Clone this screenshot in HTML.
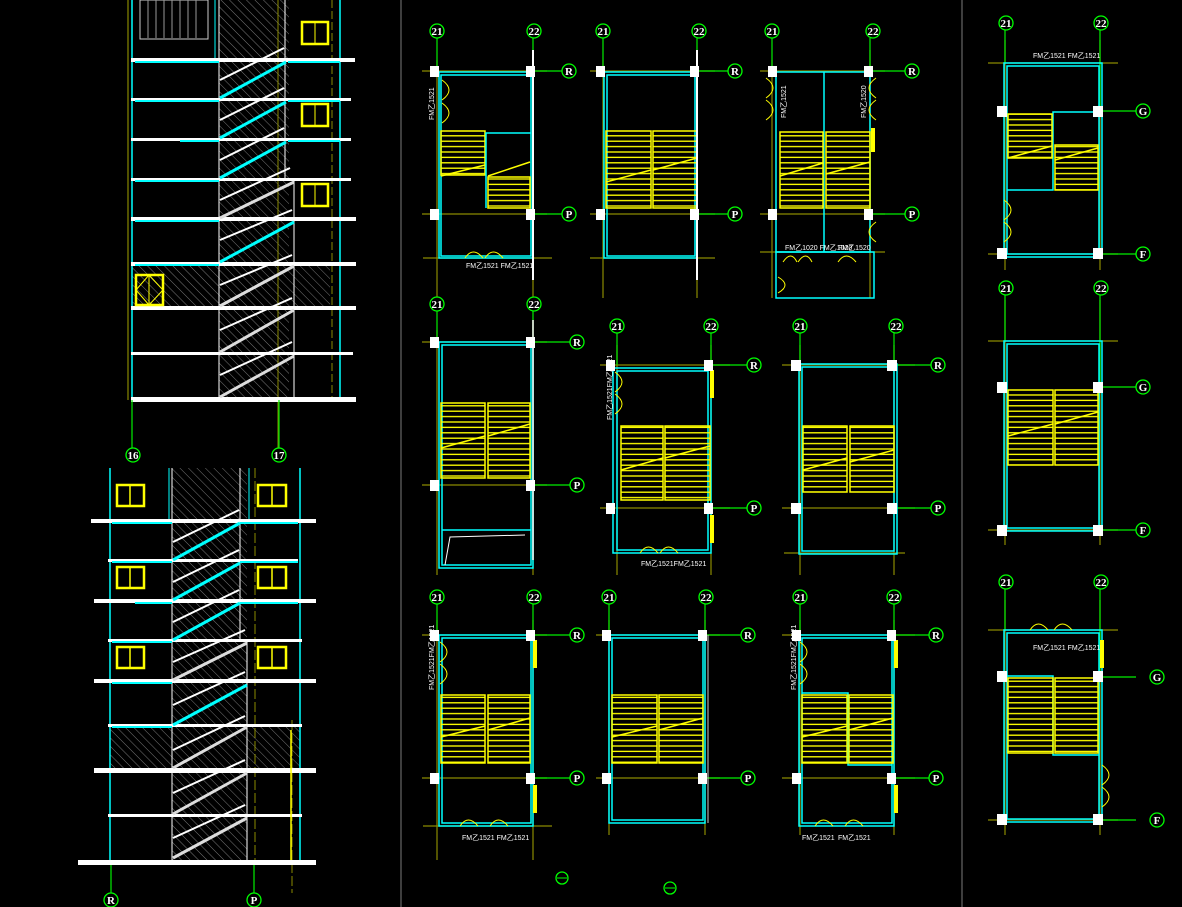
<!DOCTYPE html>
<html><head><meta charset="utf-8"><style>
html,body{margin:0;padding:0;background:#000;}
svg{display:block;}
text{font-family:"Liberation Sans",sans-serif;}
.gc{fill:#000;stroke:#00ff00;stroke-width:1.3}
.gt{fill:#fff;font-size:11px;text-anchor:middle;font-family:"Liberation Serif",serif;font-weight:bold}
.ol{stroke:#8a8a00;stroke-width:1.2;fill:none}
.gr{stroke:#00ee00;stroke-width:1.2;fill:none}
.cy{stroke:#00ffff;stroke-width:1.5;fill:none}
.wh{fill:#fff}
.st{fill:url(#tread);stroke:#ffff00;stroke-width:1.5}
.sm{fill:#fff;font-size:7px}
.dg{stroke:#ffff00;stroke-width:1.5;fill:none}
</style></head><body>
<svg width="1182" height="907" viewBox="0 0 1182 907" xmlns="http://www.w3.org/2000/svg">
<defs>
<pattern id="tread" width="1200" height="5.4" patternUnits="userSpaceOnUse"><line x1="0" y1="0.8" x2="1200" y2="0.8" stroke="#ffff00" stroke-width="1.3"/></pattern>
<pattern id="hatch" width="6" height="6" patternUnits="userSpaceOnUse" patternTransform="rotate(-45)"><rect width="6" height="6" fill="#000"/><line x1="0" y1="0" x2="0" y2="6" stroke="#777" stroke-width="1"/></pattern>
</defs>
<rect width="1182" height="907" fill="#000"/>
<line x1="401" y1="0" x2="401" y2="907" stroke="#666" stroke-width="1.2"/>
<line x1="962" y1="0" x2="962" y2="907" stroke="#666" stroke-width="1.2"/>

<!-- TOP ELEVATION -->
<g>
<rect x="219" y="0" width="70" height="400" fill="url(#hatch)"/>
<rect x="132" y="265" width="198" height="42" fill="url(#hatch)"/>
<line x1="219" y1="0" x2="219" y2="400" stroke="#fff"/>
<line x1="285" y1="0" x2="285" y2="180" stroke="#fff"/>
<line x1="294" y1="180" x2="294" y2="400" stroke="#fff"/>
<rect x="140" y="0" width="68" height="39" fill="none" stroke="#ccc"/>
<g stroke="#999"><line x1="148" y1="0" x2="148" y2="38"/><line x1="156" y1="0" x2="156" y2="38"/><line x1="164" y1="0" x2="164" y2="38"/><line x1="172" y1="0" x2="172" y2="38"/><line x1="180" y1="0" x2="180" y2="38"/><line x1="188" y1="0" x2="188" y2="38"/><line x1="196" y1="0" x2="196" y2="38"/></g>
<line x1="132" y1="0" x2="132" y2="400" stroke="#00ffff" stroke-width="1.5"/>
<line x1="128" y1="0" x2="128" y2="400" stroke="#cccc00" stroke-width="0.8"/>
<line x1="340" y1="0" x2="340" y2="400" stroke="#00ffff" stroke-width="1.5"/>
<line x1="332" y1="0" x2="332" y2="400" stroke="#8a8a00" stroke-dasharray="8 3"/>
<line x1="278" y1="0" x2="278" y2="448" stroke="#8a8a00"/>
<line x1="215" y1="0" x2="215" y2="58" stroke="#00ffff"/>
<g fill="#fff">
<rect x="131" y="58" width="224" height="4"/><rect x="131" y="98" width="220" height="3"/><rect x="131" y="138" width="220" height="3"/>
<rect x="131" y="178" width="220" height="3"/><rect x="131" y="217" width="225" height="4"/><rect x="131" y="262" width="225" height="4"/>
<rect x="131" y="306" width="225" height="4"/><rect x="131" y="352" width="222" height="3"/><rect x="131" y="397" width="225" height="5"/>
</g>
<g stroke="#00ffff" stroke-width="2"><line x1="135" y1="62" x2="219" y2="62"/><line x1="288" y1="62" x2="340" y2="62"/><line x1="135" y1="101" x2="219" y2="101"/><line x1="288" y1="101" x2="340" y2="101"/><line x1="180" y1="141" x2="219" y2="141"/><line x1="288" y1="141" x2="340" y2="141"/><line x1="135" y1="181" x2="219" y2="181"/><line x1="135" y1="221" x2="219" y2="221"/><line x1="135" y1="265" x2="219" y2="265"/></g>
<g stroke="#fff" stroke-width="2">
<line x1="220" y1="80" x2="284" y2="48"/><line x1="220" y1="120" x2="284" y2="88"/><line x1="220" y1="160" x2="284" y2="128"/><line x1="220" y1="200" x2="290" y2="168"/><line x1="220" y1="240" x2="292" y2="210"/><line x1="220" y1="285" x2="292" y2="255"/><line x1="220" y1="330" x2="292" y2="298"/><line x1="220" y1="375" x2="292" y2="342"/></g>
<g stroke="#00ffff" stroke-width="3">
<line x1="220" y1="98" x2="286" y2="62"/><line x1="220" y1="138" x2="286" y2="102"/><line x1="220" y1="178" x2="286" y2="142"/><line x1="220" y1="262" x2="294" y2="222"/></g>
<g stroke="#ddd" stroke-width="3"><line x1="220" y1="218" x2="294" y2="182"/><line x1="220" y1="306" x2="294" y2="266"/><line x1="220" y1="352" x2="294" y2="310"/><line x1="220" y1="397" x2="294" y2="356"/></g>
<g fill="none" stroke="#ffff00" stroke-width="2.5"><rect x="302" y="22" width="26" height="22"/><rect x="302" y="104" width="26" height="22"/><rect x="302" y="184" width="26" height="22"/><rect x="136" y="275" width="27" height="30"/></g>
<g stroke="#ffff00" stroke-width="1"><line x1="315" y1="22" x2="315" y2="44"/><line x1="315" y1="104" x2="315" y2="126"/><line x1="315" y1="184" x2="315" y2="206"/><line x1="149" y1="275" x2="149" y2="305"/><path d="M136 290 L149 275 L163 290 L149 305 Z" fill="none"/></g>
<line x1="132" y1="400" x2="132" y2="448" class="gr"/><line x1="279" y1="400" x2="279" y2="448" class="gr"/>
<circle cx="133" cy="455" r="7" class="gc"/><text x="133" y="459" class="gt">16</text>
<circle cx="279" cy="455" r="7" class="gc"/><text x="279" y="459" class="gt">17</text>
</g>

<!-- BOTTOM ELEVATION -->
<g>
<rect x="172" y="468" width="75" height="394" fill="url(#hatch)"/>
<rect x="110" y="727" width="190" height="43" fill="url(#hatch)"/>
<line x1="172" y1="468" x2="172" y2="860" stroke="#fff"/><line x1="240" y1="468" x2="240" y2="640" stroke="#fff"/><line x1="247" y1="640" x2="247" y2="860" stroke="#fff"/>
<line x1="110" y1="468" x2="110" y2="862" stroke="#00ffff" stroke-width="1.5"/>
<line x1="300" y1="468" x2="300" y2="862" stroke="#00ffff" stroke-width="1.5"/>
<line x1="169" y1="468" x2="169" y2="520" stroke="#00ffff"/><line x1="249" y1="468" x2="249" y2="520" stroke="#00ffff"/>
<line x1="255" y1="468" x2="255" y2="862" stroke="#8a8a00" stroke-dasharray="10 3"/>
<line x1="292" y1="720" x2="292" y2="893" stroke="#8a8a00" stroke-dasharray="10 3"/>
<g fill="#fff"><rect x="91" y="519" width="225" height="4"/><rect x="108" y="559" width="190" height="3"/><rect x="94" y="599" width="222" height="4"/><rect x="108" y="639" width="194" height="3"/><rect x="94" y="679" width="222" height="4"/><rect x="108" y="724" width="194" height="3"/><rect x="94" y="768" width="222" height="5"/><rect x="108" y="814" width="194" height="3"/><rect x="78" y="860" width="238" height="5"/></g>
<g stroke="#00ffff" stroke-width="2"><line x1="112" y1="523" x2="172" y2="523"/><line x1="240" y1="523" x2="298" y2="523"/><line x1="112" y1="562" x2="172" y2="562"/><line x1="240" y1="562" x2="298" y2="562"/><line x1="135" y1="603" x2="172" y2="603"/><line x1="240" y1="603" x2="298" y2="603"/><line x1="112" y1="642" x2="172" y2="642"/><line x1="112" y1="683" x2="172" y2="683"/><line x1="112" y1="727" x2="172" y2="727"/></g>
<g stroke="#fff" stroke-width="2"><line x1="173" y1="542" x2="239" y2="510"/><line x1="173" y1="582" x2="239" y2="550"/><line x1="173" y1="622" x2="239" y2="590"/><line x1="173" y1="662" x2="245" y2="630"/><line x1="173" y1="705" x2="245" y2="672"/><line x1="173" y1="750" x2="245" y2="716"/><line x1="173" y1="793" x2="245" y2="760"/><line x1="173" y1="838" x2="245" y2="805"/></g>
<g stroke="#00ffff" stroke-width="3"><line x1="173" y1="560" x2="240" y2="523"/><line x1="173" y1="600" x2="240" y2="563"/><line x1="173" y1="640" x2="240" y2="603"/><line x1="173" y1="725" x2="247" y2="685"/></g>
<g stroke="#ddd" stroke-width="3"><line x1="173" y1="680" x2="247" y2="643"/><line x1="173" y1="768" x2="247" y2="727"/><line x1="173" y1="814" x2="247" y2="773"/><line x1="173" y1="858" x2="247" y2="818"/></g>
<g fill="none" stroke="#ffff00" stroke-width="2.5"><rect x="117" y="485" width="27" height="21"/><rect x="258" y="485" width="28" height="21"/><rect x="117" y="567" width="27" height="21"/><rect x="258" y="567" width="28" height="21"/><rect x="117" y="647" width="27" height="21"/><rect x="258" y="647" width="28" height="21"/></g>
<g stroke="#ffff00" stroke-width="1.5"><line x1="130" y1="485" x2="130" y2="506"/><line x1="272" y1="485" x2="272" y2="506"/><line x1="130" y1="567" x2="130" y2="588"/><line x1="272" y1="567" x2="272" y2="588"/><line x1="130" y1="647" x2="130" y2="668"/><line x1="272" y1="647" x2="272" y2="668"/><line x1="291" y1="730" x2="291" y2="860"/></g>
<line x1="111" y1="865" x2="111" y2="893" class="gr"/><line x1="254" y1="865" x2="254" y2="893" class="gr"/>
<circle cx="111" cy="900" r="7" class="gc"/><text x="111" y="904" class="gt">R</text>
<circle cx="254" cy="900" r="7" class="gc"/><text x="254" y="904" class="gt">P</text>
</g>

<!-- PLAN A -->
<g>
<path class="ol" d="M422 71H547M422 214H547M423 258H552M437 60V298M533 50V298"/>
<path class="gr" d="M437 38V71M533 38V71M533 71H562M533 214H562"/>
<rect x="439" y="72" width="94" height="186" class="cy"/>
<rect x="441" y="75" width="90" height="181" class="cy" stroke-width="1"/>
<rect x="441" y="131" width="44" height="44" class="st"/><rect x="488" y="177" width="42" height="31" class="st"/>
<path class="cy" d="M486 208V133H531"/>
<path class="dg" d="M441 176L485 165M488 176L530 162"/>
<line x1="533" y1="50" x2="533" y2="280" stroke="#fff" stroke-width="2"/>
<path d="M442 80 q14 10 0 20 M442 103 q14 10 0 20 M465 258 q8-12 18 0 M485 258 q8-12 18 0" stroke="#ffff00" fill="none"/>
<text x="466" y="268" class="sm">FM乙1521 FM乙1521</text>
<text class="sm" transform="translate(434 120) rotate(-90)">FM乙1521</text>
</g>
<!-- PLAN B -->
<g>
<path class="ol" d="M590 71H715M590 214H715M590 258H715M603 60V298M697 50V298"/>
<path class="gr" d="M603 38V71M697 38V71M697 71H728M697 214H728"/>
<rect x="604" y="72" width="93" height="186" class="cy"/>
<rect x="607" y="75" width="88" height="181" class="cy" stroke-width="1"/>
<rect x="606" y="131" width="45" height="77" class="st"/><rect x="653" y="131" width="44" height="77" class="st"/>
<path class="dg" d="M606 182L651 170M653 170L697 158"/>
<line x1="697" y1="50" x2="697" y2="280" stroke="#fff" stroke-width="2"/>
</g>
<!-- PLAN C -->
<g>
<path class="ol" d="M760 71H885M760 214H885M760 252H885M772 60V298M870 50V298"/>
<path class="gr" d="M772 38V71M870 38V71M870 71H905M870 214H905"/>
<rect x="776" y="72" width="94" height="180" class="cy"/>
<rect x="776" y="252" width="98" height="46" class="cy"/>
<line x1="824" y1="72" x2="824" y2="252" class="cy" stroke-width="2"/>
<rect x="780" y="132" width="43" height="76" class="st"/><rect x="826" y="132" width="44" height="76" class="st"/>
<path class="dg" d="M780 176L823 163M826 174L870 162"/>
<rect x="871" y="128" width="4" height="24" fill="#ffff00"/>
<path d="M766 78 q14 10 0 20 M766 100 q14 10 0 20 M876 78 q-14 10 0 20 M876 100 q-14 10 0 20 M876 222 q-14 10 0 20 M783 262 q8-12 14 0 M798 262 q8-12 14 0 M838 262 q8-12 18 0 M778 277 q14 8 0 16" stroke="#ffff00" fill="none"/>
<text x="785" y="250" class="sm">FM乙1020 FM乙1020</text><text x="838" y="250" class="sm">FM乙1520</text>
<text class="sm" transform="translate(786 118) rotate(-90)">FM乙1521</text><text class="sm" transform="translate(866 118) rotate(-90)">FM乙1520</text>
</g>
<!-- PLAN D -->
<g>
<path class="ol" d="M422 342H547M422 485H547M437 330V575M533 320V575"/>
<path class="gr" d="M437 311V342M533 311V342M533 342H570M533 485H570"/>
<rect x="439" y="342" width="94" height="226" class="cy"/>
<rect x="442" y="345" width="89" height="220" class="cy" stroke-width="1"/>
<line x1="442" y1="530" x2="531" y2="530" class="cy" stroke-width="1"/>
<path d="M445 565 L450 537 L525 535" stroke="#fff" fill="none"/>
<rect x="441" y="403" width="44" height="75" class="st"/><rect x="488" y="403" width="42" height="75" class="st"/>
<path class="dg" d="M441 448L485 436M488 436L530 424"/>
<line x1="533" y1="320" x2="533" y2="560" stroke="#fff" stroke-width="1.5"/>
</g>
<!-- PLAN E -->
<g>
<path class="ol" d="M600 365H730M600 508H730M617 345V575M711 345V575"/>
<path class="gr" d="M617 333V365M711 333V365M711 365H747M711 508H747"/>
<rect x="613" y="368" width="98" height="185" class="cy"/>
<rect x="617" y="371" width="91" height="179" class="cy" stroke-width="1"/>
<rect x="621" y="426" width="42" height="74" class="st"/><rect x="665" y="426" width="45" height="74" class="st"/>
<path class="dg" d="M621 470L663 458M665 458L710 446"/>
<rect x="710" y="370" width="4" height="28" fill="#ffff00"/><rect x="710" y="515" width="4" height="28" fill="#ffff00"/>
<path d="M615 372 q14 10 0 20 M615 394 q14 10 0 20 M640 553 q8-12 18 0 M660 553 q8-12 18 0" stroke="#ffff00" fill="none"/>
<text x="641" y="566" class="sm">FM乙1521FM乙1521</text>
<text class="sm" transform="translate(612 420) rotate(-90)">FM乙1521FM乙1521</text>
</g>
<!-- PLAN F -->
<g>
<path class="ol" d="M782 365H915M782 508H915M784 553H905M800 345V575M894 345V575"/>
<path class="gr" d="M800 333V365M894 333V365M894 365H931M894 508H931"/>
<rect x="799" y="364" width="98" height="190" class="cy"/>
<rect x="802" y="367" width="92" height="184" class="cy" stroke-width="1"/>
<rect x="803" y="426" width="44" height="66" class="st"/><rect x="850" y="426" width="44" height="66" class="st"/>
<path class="dg" d="M803 470L847 458M850 462L894 450"/>
</g>
<!-- PLAN G -->
<g>
<path class="ol" d="M422 635H547M422 778H547M423 826H552M437 620V860M533 620V860"/>
<path class="gr" d="M437 604V635M533 604V635M533 635H570M533 778H570"/>
<rect x="439" y="635" width="94" height="191" class="cy"/>
<rect x="442" y="638" width="89" height="185" class="cy" stroke-width="1"/>
<rect x="441" y="695" width="44" height="68" class="st"/><rect x="488" y="695" width="42" height="68" class="st"/>
<path class="dg" d="M441 737L485 726M488 730L530 718"/>
<rect x="533" y="640" width="4" height="28" fill="#ffff00"/><rect x="533" y="785" width="4" height="28" fill="#ffff00"/>
<path d="M440 642 q14 10 0 20 M440 664 q14 10 0 20 M460 826 q8-12 18 0 M490 826 q8-12 18 0" stroke="#ffff00" fill="none"/>
<text x="462" y="840" class="sm">FM乙1521 FM乙1521</text>
<text class="sm" transform="translate(434 690) rotate(-90)">FM乙1521FM乙1521</text>
</g>
<!-- PLAN H -->
<g>
<path class="ol" d="M596 635H720M596 778H720M609 620V835M705 620V835"/>
<path class="gr" d="M609 604V635M705 604V635M705 635H741M705 778H741"/>
<rect x="609" y="635" width="96" height="188" class="cy"/>
<rect x="612" y="638" width="91" height="182" class="cy" stroke-width="1"/>
<rect x="612" y="695" width="45" height="68" class="st"/><rect x="659" y="695" width="44" height="68" class="st"/>
<path class="dg" d="M612 737L657 726M659 730L703 718"/>
<line x1="708" y1="635" x2="708" y2="823" stroke="#ccc"/>
</g>
<!-- PLAN I -->
<g>
<path class="ol" d="M782 635H915M782 778H915M800 620V835M894 620V835"/>
<path class="gr" d="M800 604V635M894 604V635M894 635H929M894 778H929"/>
<rect x="799" y="635" width="95" height="191" class="cy"/>
<rect x="802" y="638" width="90" height="185" class="cy" stroke-width="1"/>
<path class="cy" d="M802 693H848V765H892"/>
<rect x="802" y="695" width="45" height="68" class="st"/><rect x="849" y="695" width="44" height="68" class="st"/>
<path class="dg" d="M802 737L847 726M849 730L893 718"/>
<rect x="894" y="640" width="4" height="28" fill="#ffff00"/><rect x="894" y="785" width="4" height="28" fill="#ffff00"/>
<path d="M800 642 q14 10 0 20 M800 664 q14 10 0 20 M815 826 q8-12 18 0 M845 826 q8-12 18 0" stroke="#ffff00" fill="none"/>
<text x="802" y="840" class="sm">FM乙1521</text><text x="838" y="840" class="sm">FM乙1521</text>
<text class="sm" transform="translate(796 690) rotate(-90)">FM乙1521FM乙1521</text>
</g>
<!-- PLAN J -->
<g>
<path class="ol" d="M988 63H1118M988 254H1118M1005 40V270M1100 40V270"/>
<path class="gr" d="M1005 30V63M1100 30V111M1100 111H1136M1100 254H1136"/>
<rect x="1004" y="63" width="98" height="194" class="cy"/>
<rect x="1007" y="66" width="92" height="188" class="cy" stroke-width="1"/>
<path class="cy" d="M1007 190H1053V112H1099"/>
<rect x="1008" y="114" width="44" height="44" class="st"/><rect x="1055" y="145" width="43" height="45" class="st"/>
<path class="dg" d="M1008 158L1052 146M1055 160L1098 148"/>
<path d="M1004 200 q14 10 0 20 M1004 222 q14 10 0 20" stroke="#ffff00" fill="none"/>
<text x="1033" y="58" class="sm">FM乙1521 FM乙1521</text>
</g>
<!-- PLAN K -->
<g>
<path class="ol" d="M988 341H1118M988 530H1118M1005 300V545M1100 300V545"/>
<path class="gr" d="M1005 294V341M1100 294V387M1100 387H1136M1100 530H1136"/>
<rect x="1004" y="341" width="98" height="190" class="cy"/>
<rect x="1007" y="344" width="92" height="184" class="cy" stroke-width="1"/>
<rect x="1008" y="390" width="45" height="75" class="st"/><rect x="1055" y="390" width="43" height="75" class="st"/>
<path class="dg" d="M1008 436L1053 424M1055 424L1098 412"/>
</g>
<!-- PLAN L -->
<g>
<path class="ol" d="M988 630H1118M988 820H1118M1005 600V835M1100 600V835"/>
<path class="gr" d="M1005 587V630M1100 587V677M1100 677H1136M1100 820H1136"/>
<rect x="1004" y="630" width="98" height="192" class="cy"/>
<rect x="1007" y="633" width="92" height="186" class="cy" stroke-width="1"/>
<path class="cy" d="M1007 676H1053V755H1099"/>
<rect x="1008" y="678" width="45" height="75" class="st"/><rect x="1055" y="678" width="43" height="75" class="st"/>
<rect x="1100" y="640" width="4" height="28" fill="#ffff00"/>
<path d="M1030 630 q8-12 18 0 M1054 630 q8-12 18 0 M1102 765 q14 10 0 20 M1102 787 q14 10 0 20" stroke="#ffff00" fill="none"/>
<text x="1033" y="650" class="sm">FM乙1521 FM乙1521</text>
</g>

<!-- white column squares -->
<g fill="#fff">
<rect x="430" y="66" width="9" height="11"/><rect x="526" y="66" width="9" height="11"/><rect x="430" y="209" width="9" height="11"/><rect x="526" y="209" width="9" height="11"/>
<rect x="596" y="66" width="9" height="11"/><rect x="690" y="66" width="9" height="11"/><rect x="596" y="209" width="9" height="11"/><rect x="690" y="209" width="9" height="11"/>
<rect x="768" y="66" width="9" height="11"/><rect x="864" y="66" width="9" height="11"/><rect x="768" y="209" width="9" height="11"/><rect x="864" y="209" width="9" height="11"/>
<rect x="430" y="337" width="9" height="11"/><rect x="526" y="337" width="9" height="11"/><rect x="430" y="480" width="9" height="11"/><rect x="526" y="480" width="9" height="11"/>
<rect x="606" y="360" width="9" height="11"/><rect x="704" y="360" width="9" height="11"/><rect x="606" y="503" width="9" height="11"/><rect x="704" y="503" width="9" height="11"/>
<rect x="791" y="360" width="10" height="11"/><rect x="887" y="360" width="10" height="11"/><rect x="791" y="503" width="10" height="11"/><rect x="887" y="503" width="10" height="11"/>
<rect x="430" y="630" width="9" height="11"/><rect x="526" y="630" width="9" height="11"/><rect x="430" y="773" width="9" height="11"/><rect x="526" y="773" width="9" height="11"/>
<rect x="602" y="630" width="9" height="11"/><rect x="698" y="630" width="9" height="11"/><rect x="602" y="773" width="9" height="11"/><rect x="698" y="773" width="9" height="11"/>
<rect x="792" y="630" width="9" height="11"/><rect x="887" y="630" width="9" height="11"/><rect x="792" y="773" width="9" height="11"/><rect x="887" y="773" width="9" height="11"/>
<rect x="997" y="106" width="10" height="11"/><rect x="1093" y="106" width="10" height="11"/><rect x="997" y="248" width="10" height="11"/><rect x="1093" y="248" width="10" height="11"/>
<rect x="997" y="382" width="10" height="11"/><rect x="1093" y="382" width="10" height="11"/><rect x="997" y="525" width="10" height="11"/><rect x="1093" y="525" width="10" height="11"/>
<rect x="997" y="671" width="10" height="11"/><rect x="1093" y="671" width="10" height="11"/><rect x="997" y="814" width="10" height="11"/><rect x="1093" y="814" width="10" height="11"/>
</g>

<!-- grid circles -->
<g>
<circle cx="437" cy="31" r="7" class="gc"/><text x="437" y="35" class="gt">21</text>
<circle cx="534" cy="31" r="7" class="gc"/><text x="534" y="35" class="gt">22</text>
<circle cx="569" cy="71" r="7" class="gc"/><text x="569" y="75" class="gt">R</text>
<circle cx="569" cy="214" r="7" class="gc"/><text x="569" y="218" class="gt">P</text>
<circle cx="603" cy="31" r="7" class="gc"/><text x="603" y="35" class="gt">21</text>
<circle cx="699" cy="31" r="7" class="gc"/><text x="699" y="35" class="gt">22</text>
<circle cx="735" cy="71" r="7" class="gc"/><text x="735" y="75" class="gt">R</text>
<circle cx="735" cy="214" r="7" class="gc"/><text x="735" y="218" class="gt">P</text>
<circle cx="772" cy="31" r="7" class="gc"/><text x="772" y="35" class="gt">21</text>
<circle cx="873" cy="31" r="7" class="gc"/><text x="873" y="35" class="gt">22</text>
<circle cx="912" cy="71" r="7" class="gc"/><text x="912" y="75" class="gt">R</text>
<circle cx="912" cy="214" r="7" class="gc"/><text x="912" y="218" class="gt">P</text>
<circle cx="437" cy="304" r="7" class="gc"/><text x="437" y="308" class="gt">21</text>
<circle cx="534" cy="304" r="7" class="gc"/><text x="534" y="308" class="gt">22</text>
<circle cx="577" cy="342" r="7" class="gc"/><text x="577" y="346" class="gt">R</text>
<circle cx="577" cy="485" r="7" class="gc"/><text x="577" y="489" class="gt">P</text>
<circle cx="617" cy="326" r="7" class="gc"/><text x="617" y="330" class="gt">21</text>
<circle cx="711" cy="326" r="7" class="gc"/><text x="711" y="330" class="gt">22</text>
<circle cx="754" cy="365" r="7" class="gc"/><text x="754" y="369" class="gt">R</text>
<circle cx="754" cy="508" r="7" class="gc"/><text x="754" y="512" class="gt">P</text>
<circle cx="800" cy="326" r="7" class="gc"/><text x="800" y="330" class="gt">21</text>
<circle cx="896" cy="326" r="7" class="gc"/><text x="896" y="330" class="gt">22</text>
<circle cx="938" cy="365" r="7" class="gc"/><text x="938" y="369" class="gt">R</text>
<circle cx="938" cy="508" r="7" class="gc"/><text x="938" y="512" class="gt">P</text>
<circle cx="437" cy="597" r="7" class="gc"/><text x="437" y="601" class="gt">21</text>
<circle cx="534" cy="597" r="7" class="gc"/><text x="534" y="601" class="gt">22</text>
<circle cx="577" cy="635" r="7" class="gc"/><text x="577" y="639" class="gt">R</text>
<circle cx="577" cy="778" r="7" class="gc"/><text x="577" y="782" class="gt">P</text>
<circle cx="609" cy="597" r="7" class="gc"/><text x="609" y="601" class="gt">21</text>
<circle cx="706" cy="597" r="7" class="gc"/><text x="706" y="601" class="gt">22</text>
<circle cx="748" cy="635" r="7" class="gc"/><text x="748" y="639" class="gt">R</text>
<circle cx="748" cy="778" r="7" class="gc"/><text x="748" y="782" class="gt">P</text>
<circle cx="800" cy="597" r="7" class="gc"/><text x="800" y="601" class="gt">21</text>
<circle cx="894" cy="597" r="7" class="gc"/><text x="894" y="601" class="gt">22</text>
<circle cx="936" cy="635" r="7" class="gc"/><text x="936" y="639" class="gt">R</text>
<circle cx="936" cy="778" r="7" class="gc"/><text x="936" y="782" class="gt">P</text>
<circle cx="1006" cy="23" r="7" class="gc"/><text x="1006" y="27" class="gt">21</text>
<circle cx="1101" cy="23" r="7" class="gc"/><text x="1101" y="27" class="gt">22</text>
<circle cx="1143" cy="111" r="7" class="gc"/><text x="1143" y="115" class="gt">G</text>
<circle cx="1143" cy="254" r="7" class="gc"/><text x="1143" y="258" class="gt">F</text>
<circle cx="1006" cy="288" r="7" class="gc"/><text x="1006" y="292" class="gt">21</text>
<circle cx="1101" cy="288" r="7" class="gc"/><text x="1101" y="292" class="gt">22</text>
<circle cx="1143" cy="387" r="7" class="gc"/><text x="1143" y="391" class="gt">G</text>
<circle cx="1143" cy="530" r="7" class="gc"/><text x="1143" y="534" class="gt">F</text>
<circle cx="1006" cy="582" r="7" class="gc"/><text x="1006" y="586" class="gt">21</text>
<circle cx="1101" cy="582" r="7" class="gc"/><text x="1101" y="586" class="gt">22</text>
<circle cx="1157" cy="677" r="7" class="gc"/><text x="1157" y="681" class="gt">G</text>
<circle cx="1157" cy="820" r="7" class="gc"/><text x="1157" y="824" class="gt">F</text>
<circle cx="562" cy="878" r="6" class="gc"/><line x1="557" y1="878" x2="567" y2="878" stroke="#00ff00"/>
<circle cx="670" cy="888" r="6" class="gc"/><line x1="665" y1="888" x2="675" y2="888" stroke="#00ff00"/>
</g>
</svg>
</body></html>
